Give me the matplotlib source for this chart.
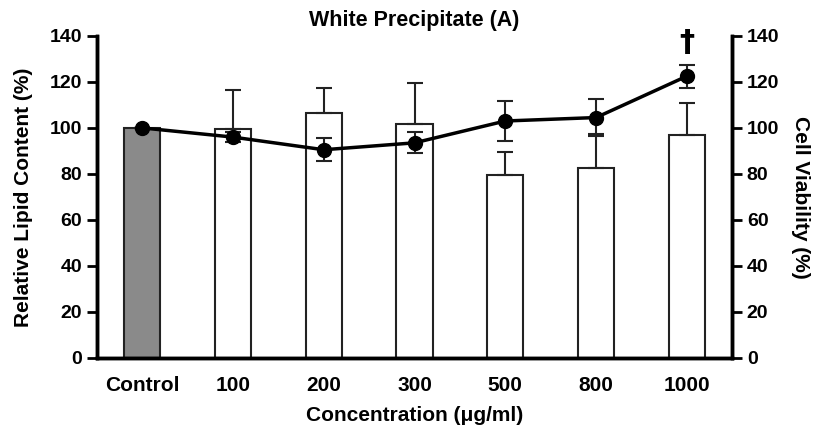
import matplotlib.pyplot as plt
import numpy as np

plt.rcParams["font.family"] = ["Liberation Sans", "DejaVu Sans"]
plt.rcParams["font.weight"] = "bold"

# Lipid content (bars, one-sided SD) and cell viability (line, +/- SD)
categories = ["Control", "100", "200", "300", "500", "800", "1000"]
lipid = [100, 99.5, 106.5, 101.5, 79.5, 82.5, 97]
lipid_err = [0, 17, 11, 18, 10, 15, 14]
viability = [100, 96, 90.5, 93.5, 103, 104.5, 122.5]
viability_err = [0, 2, 5, 4.5, 8.5, 8, 5]
bar_colors = ["#8a8a8a", "white", "white", "white", "white", "white", "white"]

fig, ax = plt.subplots(figsize=(8.2, 4.38), dpi=100)
fig.subplots_adjust(left=0.118, right=0.893, top=0.918, bottom=0.183)

x = np.arange(len(categories))
ax.bar(x, lipid, width=0.4, color=bar_colors, edgecolor="#222222", linewidth=1.5,
       yerr=[np.zeros(len(lipid)), lipid_err], ecolor="#222222",
       error_kw=dict(elinewidth=1.5, capsize=6, capthick=1.5), zorder=2)

ax2 = ax.twinx()
ax2.errorbar(x, viability, yerr=viability_err, color="black", linewidth=2.5,
             marker="o", markersize=10, ecolor="#222222", elinewidth=1.5,
             capsize=6, capthick=1.5, zorder=3)
# significance mark above the highest dose
ax2.text(x[-1], 131, "\u2020", ha="center", va="bottom", fontsize=22,
         fontweight="bold", family="DejaVu Sans")

for a in (ax, ax2):
    a.set_ylim(0, 140)
    a.set_yticks(range(0, 141, 20))
    a.tick_params(axis="y", direction="out", length=7, width=2, labelsize=14)
    for side in ("left", "right", "bottom"):
        a.spines[side].set_linewidth(2.5)
    a.spines["top"].set_visible(False)
ax.set_xlim(-0.5, len(categories) - 0.5)
ax.set_xticks(x)
ax.set_xticklabels(categories)
ax.tick_params(axis="x", length=0, labelsize=15, pad=13)

ax.set_ylabel("Relative Lipid Content (%)", fontsize=15, fontweight="bold",
              labelpad=12)
ax2.set_ylabel("Cell Viability (%)", fontsize=15, fontweight="bold",
               rotation=270, labelpad=22)
ax.set_xlabel("Concentration (\u03bcg/ml)", fontsize=15, fontweight="bold",
              labelpad=8)
ax.set_title("White Precipitate (A)", fontsize=15.5, fontweight="bold", pad=7)

fig.savefig("out.png", dpi=100)
